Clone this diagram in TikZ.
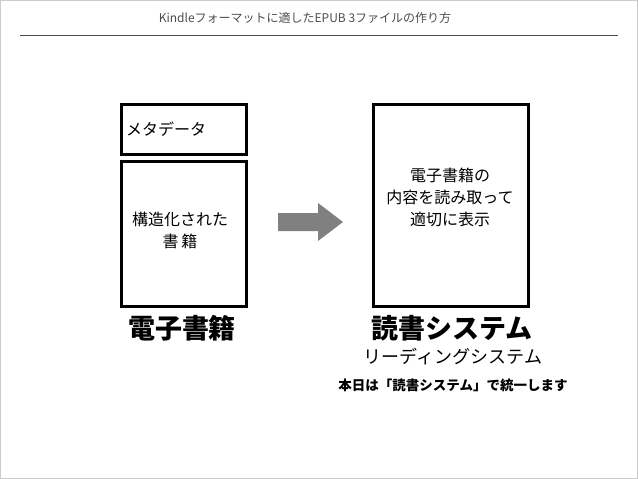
\documentclass[tikz,border=0pt]{standalone}
\usepackage{fontspec}
\setmainfont{Noto Sans CJK JP}
\begin{document}
\begin{tikzpicture}[x=1pt,y=-1pt,
  box/.style={draw=black,line width=3pt},
  txt/.style={font=\fontsize{16}{22}\selectfont,align=center,inner sep=0pt}]
\useasboundingbox (0,0) rectangle (638,479);
\draw[gray!40] (0.5,0.5) rectangle (637.5,478.5);
\node[font=\fontsize{12}{14}\selectfont,text=black!70] (title) at (305,18) {Kindleフォーマットに適したEPUB 3ファイルの作り方};
\draw[black!70] (20,35) -- (618,35);
\node[box,minimum width=125,minimum height=50,anchor=north west] (meta) at (120,103) {};
\node[txt,anchor=west] (metat) at (126,129) {メタデータ};
\node[box,minimum width=125,minimum height=145,anchor=north west] (book) at (120,160) {};
\node[txt] (bookt) at (180,230) {構造化された\\書\,籍};
\node[box,minimum width=155,minimum height=202,anchor=north west] (rs) at (372,103) {};
\node[txt] (rst) at (450,197) {電子書籍の\\内容を読み取って\\適切に表示};
\fill[gray] (278,213) -- (318,213) -- (318,203) -- (343,222) -- (318,241) -- (318,231) -- (278,231) -- cycle;
\node[font=\fontsize{27}{30}\selectfont\bfseries] (l1) at (182,328) {電子書籍};
\node[font=\fontsize{27}{30}\selectfont\bfseries] (l2) at (452,328) {読書システム};
\node[font=\fontsize{18}{20}\selectfont] (l3) at (453,357) {リーディングシステム};
\node[font=\fontsize{13.5}{16}\selectfont\bfseries] (l4) at (453,385) {本日は「読書システム」で統一します};
\end{tikzpicture}
\end{document}
